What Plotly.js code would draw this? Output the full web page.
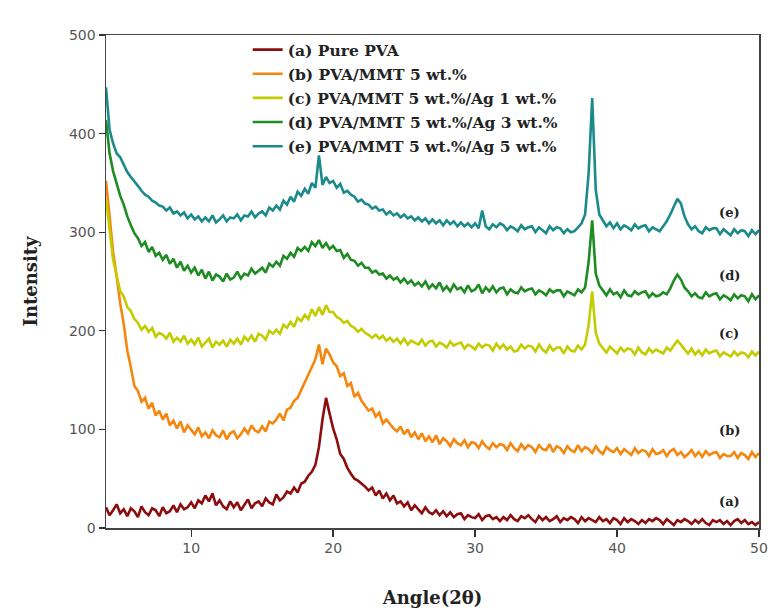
<!DOCTYPE html>
<html>
<head>
<meta charset="utf-8">
<script src="https://cdn.plot.ly/plotly-3.0.1.min.js"></script>
<style>html,body{margin:0;padding:0;background:#fff;}#chart{width:784px;height:615px;}</style>
</head>
<body>
<div id="chart"></div>
<script>
// Diffraction angle grid (2θ, degrees)
const angle = [
4,4.25,4.5,4.75, 5,5.25,5.5,5.75, 6,6.25,6.5,6.75, 7,7.25,7.5,7.75, 8,8.25,8.5,8.75,
9,9.25,9.5,9.75, 10,10.25,10.5,10.75, 11,11.25,11.5,11.75, 12,12.25,12.5,12.75, 13,13.25,13.5,13.75,
14,14.25,14.5,14.75, 15,15.25,15.5,15.75, 16,16.25,16.5,16.75, 17,17.25,17.5,17.75, 18,18.25,18.5,18.75,
19,19.25,19.5,19.75, 20,20.25,20.5,20.75, 21,21.25,21.5,21.75, 22,22.25,22.5,22.75, 23,23.25,23.5,23.75,
24,24.25,24.5,24.75, 25,25.25,25.5,25.75, 26,26.25,26.5,26.75, 27,27.25,27.5,27.75, 28,28.25,28.5,28.75,
29,29.25,29.5,29.75, 30,30.25,30.5,30.75, 31,31.25,31.5,31.75, 32,32.25,32.5,32.75, 33,33.25,33.5,33.75,
34,34.25,34.5,34.75, 35,35.25,35.5,35.75, 36,36.25,36.5,36.75, 37,37.25,37.5,37.75, 38,38.25,38.5,38.75,
39,39.25,39.5,39.75, 40,40.25,40.5,40.75, 41,41.25,41.5,41.75, 42,42.25,42.5,42.75, 43,43.25,43.5,43.75,
44,44.25,44.5,44.75, 45,45.25,45.5,45.75, 46,46.25,46.5,46.75, 47,47.25,47.5,47.75, 48,48.25,48.5,48.75,
49,49.25,49.5,49.75, 50];

// (a) Pure PVA
const pva = [
21,13,18,24, 15,19,12,20, 17,11,22,16, 13,20,18,12, 21,15,17,23,
16,24,19,21, 26,20,28,25, 33,27,35,23, 28,22,19,27, 21,26,18,24,
29,20,25,27, 22,30,26,24, 34,28,31,37, 35,41,36,45, 47,53,57,64,
82,110,132,116, 101,90,75,70, 61,55,50,48, 45,42,38,41, 33,38,30,35,
28,33,25,27, 22,26,18,23, 19,15,21,16, 14,18,13,17, 12,16,11,14,
15,9,13,11, 10,14,8,12, 13,9,11,7, 11,8,13,9, 7,12,10,13,
9,6,12,8, 11,7,9,12, 6,10,8,11, 9,5,11,7, 10,8,6,11,
7,9,5,10, 8,4,10,6, 9,7,4,8, 5,9,7,10, 8,4,9,6,
3,8,6,9, 7,4,8,5, 9,5,3,8, 6,8,4,7, 3,7,9,5,
8,4,6,3, 6];

// (b) PVA/MMT 5 wt.%
const pvaMmt = [
352,318,280,255, 228,207,180,163, 144,139,128,132, 121,127,114,119, 110,116,104,109,
101,108,97,104, 99,95,102,93, 97,91,99,94, 92,99,90,96, 98,91,95,101,
96,104,99,97, 103,98,108,106, 110,116,109,120, 122,129,132,140, 148,156,163,171,
186,166,182,176, 168,164,154,157, 144,147,133,137, 129,124,119,121, 113,117,106,110,
105,101,98,103, 95,100,92,97, 90,96,88,93, 87,94,85,91, 88,83,90,86,
84,89,82,87, 86,81,88,83, 80,86,82,85, 84,79,86,81, 78,85,80,84,
82,77,84,80, 79,85,77,83, 81,76,83,79, 77,84,78,82, 80,76,83,78,
75,82,79,77, 81,75,80,77, 74,81,76,79, 78,73,80,75, 76,79,73,78,
80,74,77,72, 75,79,73,77, 72,78,74,76, 77,71,75,73, 73,77,71,76,
74,70,77,72, 76];

// (c) PVA/MMT 5 wt.%/Ag 1 wt.%
const ag1 = [
334,300,272,256, 240,235,224,220, 212,208,201,205, 199,203,194,198, 196,192,198,189,
193,189,195,187, 191,186,193,184, 188,192,183,189, 186,190,184,191, 187,192,186,194,
190,195,189,197, 195,191,200,197, 201,197,206,203, 209,204,213,210, 216,212,222,215,
224,216,226,219, 219,214,212,208, 210,205,203,199, 202,198,196,193, 196,192,195,190,
193,189,192,187, 192,186,190,188, 186,191,185,189, 190,184,188,186, 183,189,185,187,
188,182,186,184, 181,187,183,186, 185,180,187,182, 186,181,184,179, 180,186,182,185,
184,179,186,181, 178,185,180,183, 183,177,184,180, 179,185,181,186, 206,240,198,187,
183,178,184,180, 177,183,179,182, 181,176,183,178, 176,182,178,181, 179,177,183,180,
185,190,186,181, 177,182,176,180, 175,181,177,179, 180,174,178,176, 174,179,175,178,
177,173,179,175, 179];

// (d) PVA/MMT 5 wt.%/Ag 3 wt.%
const ag3 = [
414,380,362,348, 337,328,316,307, 299,294,286,290, 280,285,276,279, 272,277,268,273,
264,270,261,266, 259,264,256,262, 253,260,251,257, 255,250,258,252, 254,260,253,258,
256,263,258,261, 264,259,268,265, 270,266,276,273, 279,275,284,281, 285,281,290,286,
292,284,289,283, 286,281,282,274, 278,272,271,266, 269,264,264,259, 261,257,258,253,
256,252,254,249, 253,248,251,246, 249,245,250,243, 247,243,249,241, 245,240,247,242,
244,239,246,240, 242,247,238,244, 240,245,239,243, 244,237,242,239, 238,244,240,242,
243,237,241,239, 236,242,239,241, 241,235,240,238, 236,242,239,244, 270,312,258,246,
241,236,242,237, 239,234,241,236, 235,240,237,239, 240,234,238,235, 236,239,237,243,
251,257,252,244, 240,235,238,234, 233,239,235,237, 238,232,236,234, 231,237,233,236,
235,230,237,232, 236];

// (e) PVA/MMT 5 wt.%/Ag 5 wt.%
const ag5 = [
447,404,390,380, 376,369,361,356, 352,347,342,338, 336,332,330,327, 326,322,325,319,
321,317,320,314, 318,313,316,311, 315,311,317,310, 313,317,311,315, 314,318,312,317,
316,321,315,319, 321,317,325,322, 327,323,332,328, 336,331,341,337, 344,339,350,345,
378,348,356,350, 352,345,349,340, 342,338,336,331, 333,329,328,324, 326,322,323,318,
321,317,319,315, 318,314,316,312, 315,311,314,309, 313,309,312,307, 312,308,311,306,
310,306,309,305, 309,304,322,306, 303,308,305,309, 307,302,306,304, 301,307,303,305,
306,300,305,302, 299,306,302,305, 304,299,303,300, 301,305,309,318, 360,436,343,318,
312,306,310,304, 309,303,307,305, 302,308,304,306, 307,301,305,303, 301,306,311,318,
326,334,329,316, 308,303,306,301, 299,305,302,304, 304,298,303,300, 297,303,299,302,
301,296,302,298, 302];

const seriesNames = [
  "(a) Pure PVA",
  "(b) PVA/MMT 5 wt.%",
  "(c) PVA/MMT 5 wt.%/Ag 1 wt.%",
  "(d) PVA/MMT 5 wt.%/Ag 3 wt.%",
  "(e) PVA/MMT 5 wt.%/Ag 5 wt.%"
];
const curveTags = ["(a)", "(b)", "(c)", "(d)", "(e)"];
const tagIntensity = [27, 99, 197, 256, 320];
const tagAngle = 47.9;
const xTicks = [10, 20, 30, 40, 50];

const series = [pva, pvaMmt, ag1, ag3, ag5];
const colors = ["#8b0d0d", "#f5870f", "#c3cc00", "#1e8c22", "#1a8a8a"];

const traces = series.map((s, i) => ({
  x: angle, y: s, type: "scatter", mode: "lines",
  name: seriesNames[i], legendgroup: "g" + i,
  line: {color: colors[i], width: 2.6}
}));

const serif = "DejaVu Serif, Liberation Serif, serif";
const layout = {
  width: 784, height: 615,
  margin: {l: 106, r: 25, t: 35, b: 87},
  paper_bgcolor: "#fff", plot_bgcolor: "#fff",
  showlegend: true,
  legend: {
    x: 0.217, y: 1.004, xanchor: "left", yanchor: "top",
    bgcolor: "rgba(0,0,0,0)", borderwidth: 0,
    font: {family: serif, size: 15.5, color: "#222", weight: "bold"},
    traceorder: "grouped", tracegroupgap: 1
  },
  xaxis: {
    range: [4, 50], tickvals: xTicks, ticks: "outside", ticklen: 7, tickwidth: 1.3,
    tickcolor: "#333", showline: true, mirror: true, linecolor: "#444", linewidth: 1.5,
    showgrid: false, zeroline: false,
    tickfont: {family: "DejaVu Sans, Arial, sans-serif", size: 14, color: "#555"},
    title: {text: "Angle(2θ)", standoff: 36,
      font: {family: serif, size: 18, color: "#222", weight: "bold"}}
  },
  yaxis: {
    range: [0, 500], dtick: 100, ticks: "outside", ticklen: 6, tickwidth: 1.3,
    tickcolor: "#333", showline: true, mirror: true, linecolor: "#444", linewidth: 1.5,
    showgrid: false, zeroline: false,
    tickfont: {family: "DejaVu Sans, Arial, sans-serif", size: 14, color: "#555"},
    title: {text: "Intensity", standoff: 26,
      font: {family: serif, size: 18, color: "#222", weight: "bold"}}
  },
  annotations: curveTags.map((t, i) => ({
    x: tagAngle, y: tagIntensity[i], text: t, showarrow: false,
    xanchor: "center", yanchor: "middle",
    font: {family: serif, size: 13, color: "#222", weight: "bold"}
  }))
};

Plotly.newPlot("chart", traces, layout, {displayModeBar: false, staticPlot: true});
</script>
</body>
</html>
